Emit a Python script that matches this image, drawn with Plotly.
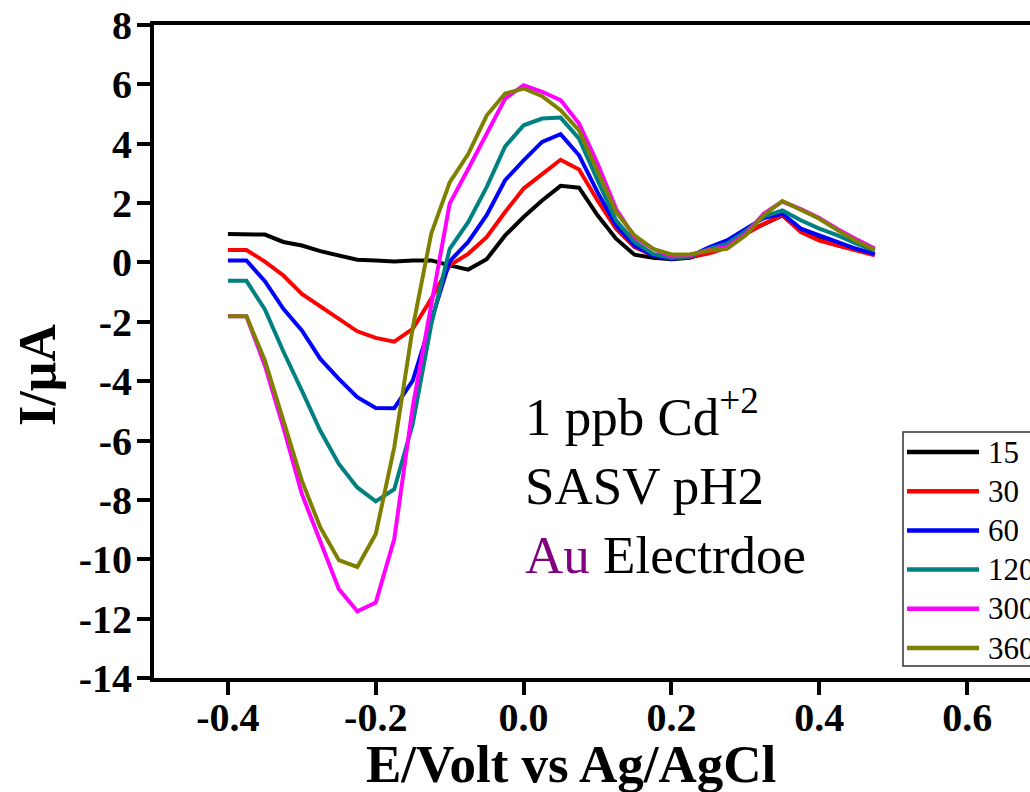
import plotly.graph_objects as go

# Potential axis (V vs Ag/AgCl), 0.025 V steps
potential = [-0.4, -0.375, -0.35, -0.325, -0.3, -0.275, -0.25, -0.225, -0.2, -0.175,
             -0.15, -0.125, -0.1, -0.075, -0.05, -0.025, 0.0, 0.025, 0.05, 0.075,
             0.1, 0.125, 0.15, 0.175, 0.2, 0.225, 0.25, 0.275, 0.3, 0.325,
             0.35, 0.375, 0.4, 0.425, 0.45, 0.475]

# Current (uA) for each deposition time
i_15 = [0.96, 0.96, 0.94, 0.69, 0.57, 0.38, 0.24, 0.09, 0.07, 0.03,
        0.07, 0.07, -0.10, -0.24, 0.11, 0.91, 1.53, 2.09, 2.58, 2.52,
        1.59, 0.80, 0.26, 0.16, 0.11, 0.16, 0.35, 0.55, 1.00, 1.30,
        1.58, 1.08, 0.78, 0.58, 0.42, 0.28]
i_30 = [0.42, 0.42, 0.03, -0.44, -1.06, -1.48, -1.93, -2.32, -2.54, -2.67,
        -2.24, -1.22, -0.10, 0.29, 0.85, 1.70, 2.49, 2.99, 3.46, 3.13,
        2.09, 1.14, 0.52, 0.24, 0.15, 0.18, 0.30, 0.50, 0.95, 1.30,
        1.59, 1.02, 0.74, 0.57, 0.40, 0.24]
i_60 = [0.07, 0.07, -0.63, -1.56, -2.29, -3.25, -3.92, -4.54, -4.90, -4.91,
        -3.98, -2.00, 0.04, 0.69, 1.59, 2.77, 3.44, 4.06, 4.32, 3.61,
        2.37, 1.25, 0.57, 0.24, 0.12, 0.20, 0.50, 0.74, 1.14, 1.50,
        1.64, 1.14, 0.91, 0.69, 0.46, 0.29]
i_120 = [-0.62, -0.62, -1.58, -3.00, -4.32, -5.67, -6.79, -7.58, -8.05, -7.64,
         -5.44, -2.10, 0.46, 1.36, 2.54, 3.91, 4.62, 4.85, 4.88, 4.17,
         2.77, 1.42, 0.69, 0.29, 0.15, 0.20, 0.45, 0.63, 1.05, 1.55,
         1.75, 1.42, 1.14, 0.91, 0.63, 0.40]
i_300 = [-1.81, -1.81, -3.47, -5.56, -7.80, -9.38, -11.00, -11.75, -11.46, -9.32,
         -4.86, -1.44, 1.98, 3.15, 4.30, 5.52, 5.97, 5.75, 5.47, 4.68,
         3.33, 1.81, 0.85, 0.46, 0.20, 0.24, 0.42, 0.52, 0.95, 1.65,
         2.05, 1.80, 1.50, 1.12, 0.78, 0.47]
i_360 = [-1.81, -1.81, -3.30, -5.33, -7.35, -8.93, -10.03, -10.26, -9.15, -6.23,
         -2.20, 0.97, 2.70, 3.65, 4.95, 5.69, 5.86, 5.60, 5.13, 4.45,
         3.10, 1.70, 0.91, 0.46, 0.27, 0.27, 0.40, 0.46, 0.91, 1.59,
         2.07, 1.78, 1.47, 1.08, 0.72, 0.43]

series_names = ["15", "30", "60", "120", "300", "360"]
series_values = [i_15, i_30, i_60, i_120, i_300, i_360]
series_colors = ["#000000", "#FF0000", "#0000FF", "#008080", "#FF00FF", "#808000"]

x_ticks = [-0.4, -0.2, 0.0, 0.2, 0.4, 0.6]
x_tick_labels = ["-0.4", "-0.2", "0.0", "0.2", "0.4", "0.6"]
y_ticks = [8, 6, 4, 2, 0, -2, -4, -6, -8, -10, -12, -14]
y_tick_labels = ["8", "6", "4", "2", "0", "-2", "-4", "-6", "-8", "-10", "-12", "-14"]

W, H = 1030, 792
ML, MR, MT, MB = 154, 0, 25, 114
PW, PH = W - ML - MR, H - MT - MB
SERIF = "Liberation Serif, Times New Roman, serif"


def px(xp):
    return (xp - ML) / PW


def py(yp):
    return (H - MB - yp) / PH


fig = go.Figure()
for name, vals, col in zip(series_names, series_values, series_colors):
    fig.add_trace(go.Scatter(x=potential, y=vals, mode="lines", name=name,
                             line=dict(color=col, width=4), showlegend=False))

axis_common = dict(
    showline=True, linecolor="black", linewidth=4,
    ticks="outside", ticklen=13, tickwidth=4, tickcolor="black",
    showgrid=False, zeroline=False,
    tickfont=dict(family=SERIF, size=40, color="black", weight="bold"),
)
fig.update_xaxes(range=[-0.5, 0.685], tickvals=x_ticks, ticktext=x_tick_labels,
                 mirror=True, ticklabelstandoff=-12, **axis_common)
fig.update_yaxes(range=[-14, 8], tickvals=y_ticks, ticktext=y_tick_labels,
                 ticklabelstandoff=-3, **axis_common)

annotations = [
    dict(text="E/Volt vs Ag/AgCl", x=px(571), y=py(764), xref="paper", yref="paper",
         xanchor="center", yanchor="middle", showarrow=False,
         font=dict(family=SERIF, size=53, color="black", weight="bold")),
    dict(text="I/\u03bcA", x=px(37), y=py(375), xref="paper", yref="paper",
         xanchor="center", yanchor="middle", textangle=-90, showarrow=False,
         font=dict(family=SERIF, size=52, color="black", weight="bold")),
    dict(text="1 ppb Cd<sup>+2</sup><br>SASV pH2<br>"
              "<span style='color:#800080'>Au</span> Electrdoe",
         x=px(523), y=py(482), xref="paper", yref="paper",
         xanchor="left", yanchor="middle", align="left", showarrow=False,
         font=dict(family=SERIF, size=53, color="black")),
]

# Legend box with line samples
shapes = [dict(type="rect", xref="paper", yref="paper",
               x0=px(903), x1=px(1045), y0=py(666), y1=py(432),
               line=dict(color="#333333", width=1.5), fillcolor="white", layer="above")]
for k, (name, col) in enumerate(zip(series_names, series_colors)):
    yc = 452 + 39.2 * k
    shapes.append(dict(type="line", xref="paper", yref="paper",
                       x0=px(907), x1=px(979), y0=py(yc), y1=py(yc),
                       line=dict(color=col, width=4.5), layer="above"))
    annotations.append(dict(text=name, x=px(986), y=py(yc), xref="paper", yref="paper",
                            xanchor="left", yanchor="middle", showarrow=False,
                            font=dict(family=SERIF, size=31, color="black")))

fig.update_layout(
    width=W, height=H,
    margin=dict(l=ML, r=MR, t=MT, b=MB, autoexpand=False),
    paper_bgcolor="white", plot_bgcolor="white",
    annotations=annotations, shapes=shapes,
)

fig.write_html("out.html")
